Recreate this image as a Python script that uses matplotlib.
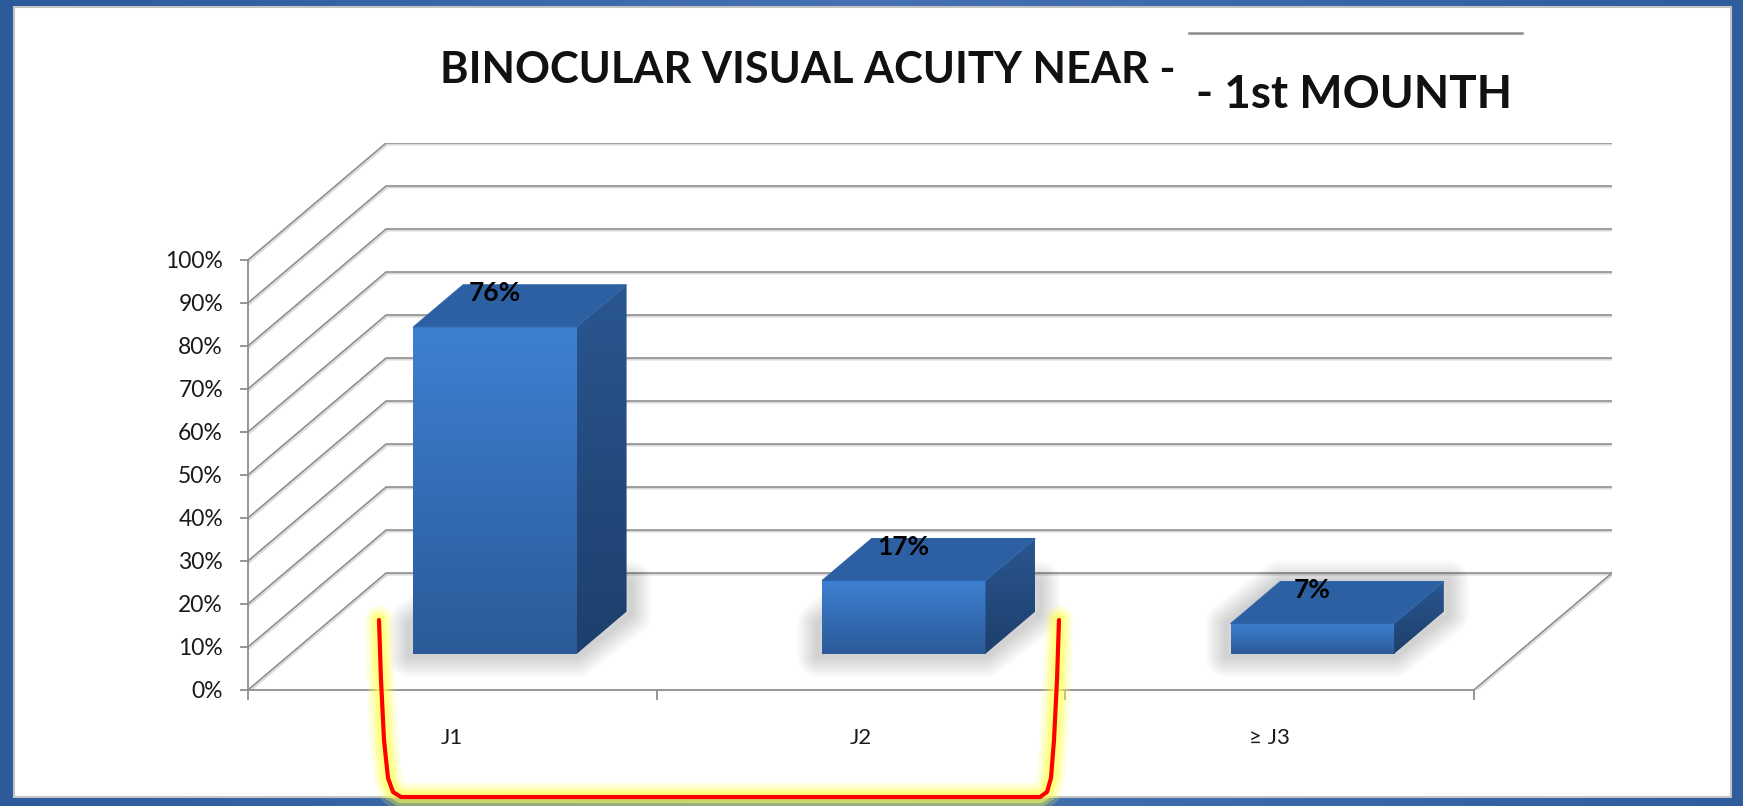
import numpy as np
import matplotlib
matplotlib.use("Agg")
import matplotlib.pyplot as plt
import matplotlib.patheffects as pe
from matplotlib.patches import Polygon, Rectangle
from matplotlib.ticker import PercentFormatter
from matplotlib.colors import to_rgb

plt.rcParams['font.family'] = ['Lato', 'DejaVu Sans']

categories = ['J1', 'J2', '\u2265 J3']
values = [76, 17, 7]
y_ticks = list(range(0, 101, 10))
title = 'BINOCULAR VISUAL ACUITY NEAR - '
subtitle = '- 1st MOUNTH'

W, H = 1743, 806
fig = plt.figure(figsize=(W / 100, H / 100), dpi=100)


def ramp(c0, c1, n=128):
    a, b = np.array(to_rgb(c0)), np.array(to_rgb(c1))
    t = np.linspace(0, 1, n)[:, None]
    return (a + (b - a) * t)[:, None, :]


# blue slide background + white chart area
bg = fig.add_axes([0, 0, 1, 1], zorder=-10)
bg.set_xlim(0, W)
bg.set_ylim(H, 0)
bg.axis('off')
t = np.linspace(0, 1, 400)
stops = [0, 0.5, 1]
cols = np.array([to_rgb('#2c5a9a'), to_rgb('#4672b1'), to_rgb('#2e5c9d')])
img = np.stack([np.interp(t, stops, cols[:, k]) for k in range(3)], axis=-1)[None, :, :]
bg.imshow(img, extent=[0, W, H, 0], aspect='auto')
bg.add_patch(Rectangle((14, 7), 1717, 790, fc='white', ec='#c4c4c4', lw=1.5))
bg.set_xlim(0, W)
bg.set_ylim(H, 0)

# pseudo-3D chart: depth is a shear in data units
KX, KY = 0.338, 27.2
Z0, Z1 = 0.31, 0.67
HALF = 0.2
n = len(categories)

ax = fig.add_axes([248 / W, (H - 690) / H, 1364 / W, 547 / H])
ax.set_facecolor('none')

grid_kw = dict(color='#8d8d8d', lw=1.2, zorder=1, solid_joinstyle='miter',
               path_effects=[pe.SimpleLineShadow(offset=(0.8, -1.2), shadow_color='k', alpha=0.15),
                             pe.Normal()])
for tk in y_ticks:
    ax.plot([0, KX, n + KX], [tk, tk + KY, tk + KY], **grid_kw)
ax.plot([n, n + KX], [0, KY], **grid_kw)

dx, dy = KX * (Z1 - Z0), KY * (Z1 - Z0)
for i, v in enumerate(values):
    c = i + 0.5
    xl, xr = c - HALF + KX * Z0, c + HALF + KX * Z0
    yb, yt = KY * Z0, v + KY * Z0

    # soft shadow around the foot of the box
    hs = min(v, 7)
    sh = [(xl - 0.01, yb - 0.6), (xr, yb - 0.6), (xr + dx + 0.01, yb + dy - 0.6),
          (xr + dx + 0.01, yb + dy + hs), (xl + dx, yb + dy + hs), (xl - 0.01, yb + hs)]
    for lw in np.linspace(30, 4, 9):
        ax.add_patch(Polygon(sh, closed=True, fc='none', ec=(0, 0, 0, 0.02),
                             lw=lw, joinstyle='round', zorder=2))

    ax.imshow(ramp('#2b5a98', '#3d80d2'), extent=[xl, xr, yb, yt], origin='lower',
              aspect='auto', zorder=3)
    side = Polygon([(xr, yb), (xr + dx, yb + dy), (xr + dx, yt + dy), (xr, yt)],
                   closed=True, transform=ax.transData)
    im = ax.imshow(ramp('#1d3f6c', '#2a5690'), extent=[xr, xr + dx, yb, yt + dy],
                   origin='lower', aspect='auto', zorder=3)
    im.set_clip_path(side)
    ax.add_patch(Polygon([(xl, yt), (xr, yt), (xr + dx, yt + dy), (xl + dx, yt + dy)],
                         closed=True, fc='#2d60a2', ec='#2f66ab', lw=0.8, zorder=3))

    ax.text(c + KX * Z0, yt + 7.9, f'{v}%', ha='center', va='center',
            fontsize=19, fontweight='bold', color='black', zorder=5)

ax.set_xlim(0, n + KX)
ax.set_ylim(0, 100 + KY)

for s in ['top', 'right']:
    ax.spines[s].set_visible(False)
for s in ['left', 'bottom']:
    ax.spines[s].set_color('#8d8d8d')
    ax.spines[s].set_linewidth(1.3)
ax.spines['left'].set_bounds(0, 100)
ax.spines['bottom'].set_bounds(0, n)

ax.set_yticks(y_ticks)
ax.yaxis.set_major_formatter(PercentFormatter(xmax=100, decimals=0))
ax.tick_params(axis='y', direction='out', length=6, width=1.3, color='#8d8d8d',
               pad=12, labelsize=16.5, labelcolor='#1a1a1a')
ax.set_xticks(range(n + 1))
ax.set_xticklabels([])
ax.set_xticks(np.arange(n) + 0.5, labels=categories, minor=True)
ax.tick_params(axis='x', which='major', direction='out', length=7, width=1.3, color='#8d8d8d')
ax.tick_params(axis='x', which='minor', length=0, pad=27, labelsize=16, labelcolor='#1a1a1a')

# overlay: title, pasted white box, highlight bracket
ov = fig.add_axes([0, 0, 1, 1], zorder=10)
ov.set_xlim(0, W)
ov.set_ylim(H, 0)
ov.axis('off')
ov.set_facecolor('none')

ov.text(440, 83, title, fontsize=31.2, fontweight='bold', color='#111111',
        ha='left', va='baseline', zorder=2)
ov.add_patch(Rectangle((1189, 33), 333, 92, fc='white', ec='none', zorder=3))
ov.plot([1189, 1522], [33, 33], color='#8a8a8a', lw=1.8, zorder=4)
ov.text(1196, 108, subtitle, fontsize=33, fontweight='bold', color='#111111',
        ha='left', va='baseline', zorder=5)

bx = [379, 381, 384, 388, 393, 401, 1040, 1047, 1051, 1054, 1057, 1059]
by = [620, 680, 740, 778, 792, 797, 797, 792, 778, 740, 680, 620]
for lw, a in [(20, 0.2), (14, 0.3), (9, 0.5)]:
    ov.plot(bx, by, color='#ffff50', lw=lw, alpha=a, solid_capstyle='round',
            solid_joinstyle='round', zorder=6)
ov.plot(bx, by, color='#ff0000', lw=3.0, solid_capstyle='round',
        solid_joinstyle='round', zorder=7)

fig.savefig('out.png', dpi=100)
